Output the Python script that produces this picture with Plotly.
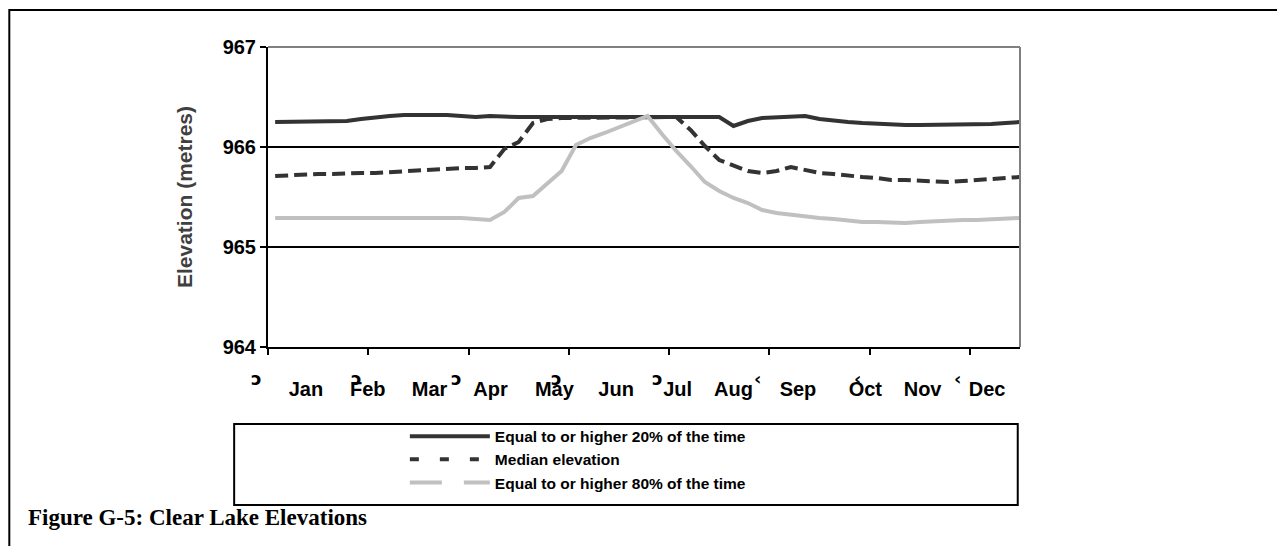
import plotly.graph_objects as go

# ---- data (weekly, Jan -> Dec) ----
weeks = list(range(53))

p20 = [966.25, 966.25, 966.25, 966.25, 966.25, 966.26, 966.28, 966.30, 966.31, 966.32,
       966.32, 966.33, 966.32, 966.31, 966.30, 966.31, 966.30, 966.30, 966.30, 966.30,
       966.30, 966.30, 966.30, 966.30, 966.30, 966.30, 966.30, 966.30, 966.30, 966.30,
       966.30, 966.30, 966.21, 966.26, 966.29, 966.30, 966.31, 966.31, 966.28, 966.26,
       966.25, 966.24, 966.23, 966.22, 966.22, 966.22, 966.22, 966.22, 966.22, 966.22,
       966.23, 966.24, 966.25]

median = [965.71, 965.72, 965.72, 965.73, 965.73, 965.74, 965.74, 965.74, 965.75, 965.75,
          965.76, 965.77, 965.78, 965.79, 965.79, 965.80, 965.98, 966.05, 966.24, 966.28,
          966.29, 966.29, 966.29, 966.29, 966.29, 966.29, 966.30, 966.30, 966.30, 966.17,
          966.01, 965.87, 965.82, 965.76, 965.74, 965.76, 965.80, 965.77, 965.74, 965.73,
          965.71, 965.70, 965.69, 965.67, 965.67, 965.66, 965.66, 965.65, 965.66, 965.67,
          965.67, 965.69, 965.70]

p80 = [965.29, 965.29, 965.30, 965.30, 965.30, 965.30, 965.29, 965.29, 965.29, 965.29,
       965.29, 965.29, 965.29, 965.29, 965.28, 965.27, 965.35, 965.49, 965.51, 965.64,
       965.76, 966.02, 966.09, 966.14, 966.20, 966.25, 966.31, 966.13, 965.96, 965.81,
       965.65, 965.56, 965.49, 965.44, 965.37, 965.34, 965.32, 965.31, 965.29, 965.28,
       965.26, 965.25, 965.25, 965.24, 965.24, 965.25, 965.26, 965.26, 965.27, 965.27,
       965.28, 965.28, 965.29]

series_names = ["Equal to or higher 20% of the time",
                "Median elevation",
                "Equal to or higher 80% of the time"]

month_labels = ["Jan", "Feb", "Mar", "Apr", "May", "Jun",
                "Jul", "Aug", "Sep", "Oct", "Nov", "Dec"]
month_pos = [2.15, 6.46, 10.78, 15.03, 19.49, 23.8, 28.1, 32.0, 36.5, 41.2, 45.2, 49.7]

tick_weeks = [-0.5, 6.5, 13.5, 20.5, 27.5, 34.5, 41.5, 48.5]
tick_glyphs = ["\u2184", "\u2184", "\u2184", "\u2184", "\u2184", "\u2039", "\u2039", "\u2039"]

y_ticks = [964, 965, 966, 967]
grid_vals = [965, 966]

x_range = [-0.5, 52]
y_range = [964, 967]

DARK = "#333333"
LIGHT = "#c0c0c0"
SANS = "Liberation Sans, Arial, sans-serif"

fig = go.Figure()
# plotted series
fig.add_trace(go.Scatter(x=weeks, y=p20, mode="lines", name=series_names[0],
                         showlegend=False, line=dict(color=DARK, width=4)))
fig.add_trace(go.Scatter(x=weeks, y=median, mode="lines", name=series_names[1],
                         showlegend=False, line=dict(color=DARK, width=4, dash="13px,6px")))
fig.add_trace(go.Scatter(x=weeks, y=p80, mode="lines", name=series_names[2],
                         showlegend=False, line=dict(color=LIGHT, width=4)))
# legend entries (legend swatch styles as in the original key)
legend_dash = ["solid", "9px,21px", "32px,22px"]
legend_col = [DARK, DARK, LIGHT]
for nm, ds, cl in zip(series_names, legend_dash, legend_col):
    fig.add_trace(go.Scatter(x=[None], y=[None], mode="lines", name=nm,
                             line=dict(color=cl, width=4, dash=ds), hoverinfo="skip"))

# glyphs printed under the tick marks in the original
annotations = [
    dict(text=g, x=w, xref="x", y=-0.145, yref="paper", xshift=-12, showarrow=False,
         font=dict(family="DejaVu Sans", size=18, color="black", weight="bold"))
    for w, g in zip(tick_weeks, tick_glyphs)
]
annotations.append(
    dict(text="Figure G-5: Clear Lake Elevations", xref="paper", yref="paper",
         x=-0.322, y=-0.567, xanchor="left", yanchor="middle", showarrow=False,
         font=dict(family="Liberation Serif, Times New Roman, serif", size=23,
                   color="black", weight="bold")))

fig.update_layout(
    width=1285, height=546,
    margin=dict(l=260, r=273, t=39, b=207),
    paper_bgcolor="white", plot_bgcolor="white",
    showlegend=True,
    legend=dict(x=0.182, y=-0.242, xanchor="left", yanchor="top",
                bgcolor="rgba(0,0,0,0)", borderwidth=0, itemwidth=80,
                font=dict(family=SANS, size=15.5, color="black", weight="bold"),
                tracegroupgap=0),
    xaxis=dict(range=x_range, tickvals=month_pos, ticktext=month_labels, ticks="",
               showline=True, linecolor="black", linewidth=2,
               showgrid=False, zeroline=False,
               tickfont=dict(family=SANS, size=20, color="black", weight="bold"),
               ticklabelstandoff=23,
               minor=dict(tickvals=tick_weeks, ticks="outside", ticklen=6,
                          tickwidth=2, tickcolor="black", showgrid=False)),
    yaxis=dict(range=y_range, tickvals=y_ticks, ticks="outside", ticklen=6,
               tickwidth=2, tickcolor="black",
               showline=True, linecolor="black", linewidth=2,
               showgrid=False, zeroline=False,
               tickfont=dict(family=SANS, size=20, color="black", weight="bold"),
               title=dict(text="Elevation (metres)", standoff=24,
                          font=dict(family=SANS, size=21, color="#404040", weight="bold")),
               minor=dict(tickvals=grid_vals, ticks="", showgrid=True,
                          gridcolor="black", gridwidth=2)),
    shapes=[
        # grey top and right border of plot area
        dict(type="line", xref="paper", yref="paper", x0=0, x1=1, y0=1, y1=1,
             line=dict(color="#808080", width=2)),
        dict(type="line", xref="paper", yref="paper", x0=1, x1=1, y0=0, y1=1,
             line=dict(color="#808080", width=2)),
        # outer frame of the figure
        dict(type="rect", xref="paper", yref="paper",
             x0=-0.344, x1=1.350, y0=-0.75, y1=1.123,
             line=dict(color="black", width=2), fillcolor="rgba(0,0,0,0)"),
        # legend box
        dict(type="rect", xref="paper", yref="paper",
             x0=-0.045, x1=0.997, y0=-0.527, y1=-0.257,
             line=dict(color="black", width=2), fillcolor="rgba(0,0,0,0)"),
    ],
    annotations=annotations,
)

fig.write_html("out.html")
